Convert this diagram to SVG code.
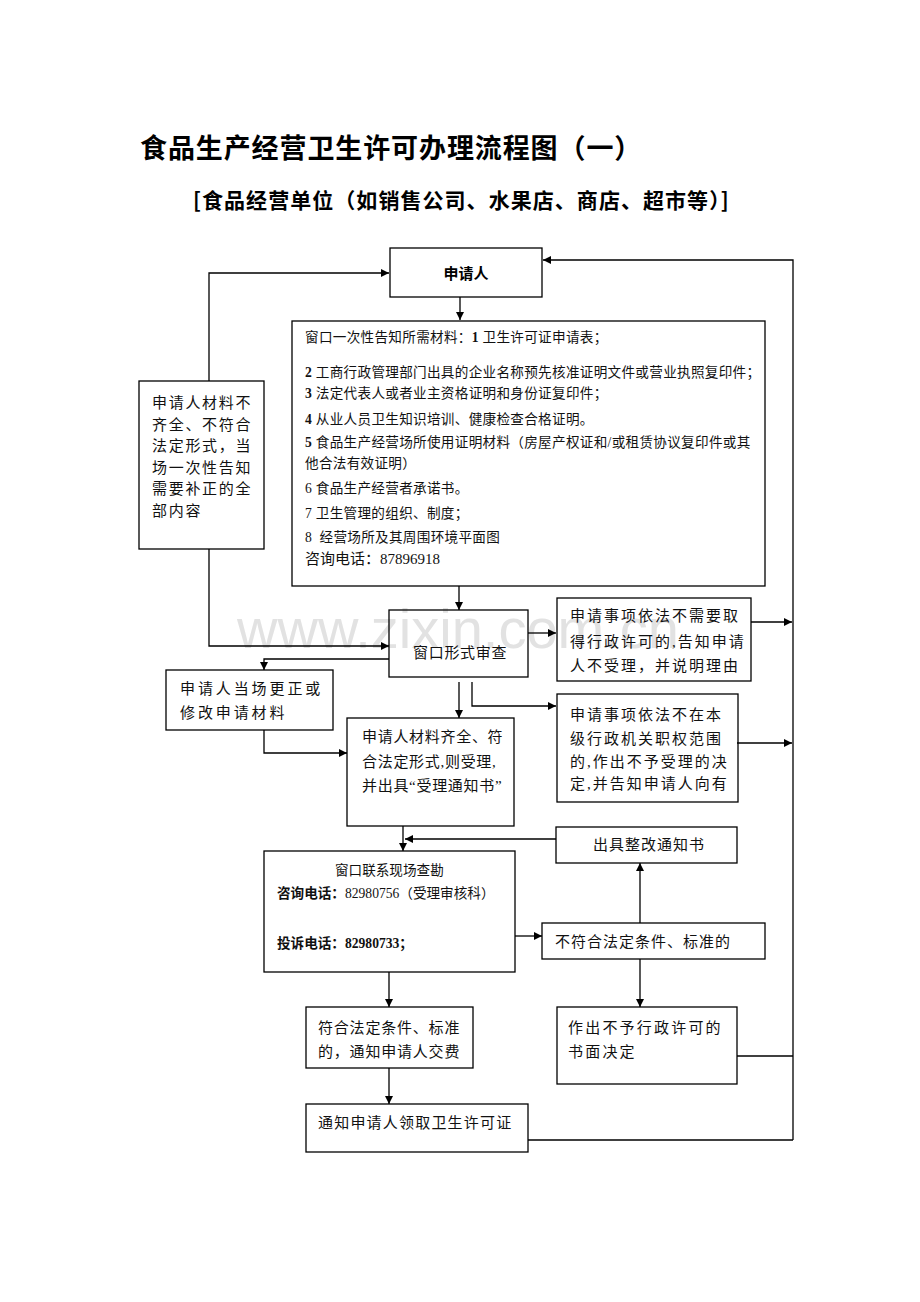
<svg xmlns="http://www.w3.org/2000/svg" width="920" height="1302" viewBox="0 0 920 1302">
<style>
.bx{fill:none;stroke:#000;stroke-width:1.3}
.ln{fill:none;stroke:#000;stroke-width:1.3}
.ar{marker-end:url(#ah)}
.t{font-family:"Liberation Serif","Noto Sans CJK SC",serif;font-size:15px;fill:#111}
.s{font-family:"Liberation Serif","Noto Sans CJK SC",serif;font-size:13.6px;fill:#111}
.m{letter-spacing:0.3px}
.h{font-family:"Noto Sans CJK SC","Liberation Sans",sans-serif;font-weight:bold;fill:#000}
.b{font-weight:bold}
.wm{font-family:"Liberation Sans",Arial,sans-serif;font-size:56px;fill:#e2e2e2}
</style>
<defs>
<marker id="ah" viewBox="0 0 10 10" refX="10" refY="5" markerWidth="9" markerHeight="8" markerUnits="userSpaceOnUse" orient="auto">
<path d="M0,0 L10,5 L0,10 z" fill="#000"/>
</marker>
</defs>
<rect width="920" height="1302" fill="#fff"/>
<text class="wm" x="237" y="648">www.zixin.com.cn</text>

<g id="title">
<text class="h" x="140" y="158" font-size="27" letter-spacing="0.9">食品生产经营卫生许可办理流程图（一）</text>
<text class="h" x="193" y="208" font-size="21" letter-spacing="1.05">[食品经营单位（如销售公司、水果店、商店、超市等）]</text>
</g>

<g id="connectors">
<polyline class="ln ar" points="209,381 209,273 389,273"/>
<polyline class="ln ar" points="209,549 209,646 389,646"/>
<line class="ln ar" x1="460" y1="297" x2="460" y2="320"/>
<line class="ln ar" x1="459" y1="586" x2="459" y2="610"/>
<line class="ln ar" x1="528" y1="633" x2="556" y2="633"/>
<line class="ln ar" x1="751" y1="622" x2="792" y2="622"/>
<line class="ln ar" x1="737" y1="743" x2="792" y2="743"/>
<polyline class="ln ar" points="793,1140 793,260 543,260"/>
<polyline class="ln ar" points="389,659 264,659 264,670"/>
<polyline class="ln ar" points="264,730 264,753 347,753"/>
<line class="ln ar" x1="459" y1="682" x2="459" y2="718"/>
<polyline class="ln ar" points="472,682 472,706 556,706"/>
<line class="ln ar" x1="403" y1="826" x2="403" y2="851"/>
<line class="ln ar" x1="556" y1="839" x2="405" y2="839"/>
<line class="ln ar" x1="515" y1="936" x2="542" y2="936"/>
<line class="ln ar" x1="640" y1="923" x2="640" y2="863"/>
<line class="ln ar" x1="640" y1="959" x2="640" y2="1007"/>
<line class="ln" x1="737" y1="1056" x2="793" y2="1056"/>
<line class="ln ar" x1="389" y1="972" x2="389" y2="1007"/>
<line class="ln ar" x1="389" y1="1068" x2="389" y2="1104"/>
<line class="ln" x1="528" y1="1140" x2="793" y2="1140"/>
</g>

<g id="n-applicant">
<rect class="bx" x="390" y="248" width="152" height="49"/>
<text class="h" x="466" y="279" font-size="15" text-anchor="middle">申请人</text>
</g>

<g id="n-materials">
<rect class="bx" x="292" y="321" width="473" height="265"/>
<text class="s m" x="305" y="342">窗口一次性告知所需材料：<tspan class="b">1</tspan> 卫生许可证申请表；</text>
<text class="s m" x="305" y="377"><tspan class="b">2</tspan> 工商行政管理部门出具的企业名称预先核准证明文件或营业执照复印件；</text>
<text class="s m" x="305" y="398"><tspan class="b">3</tspan> 法定代表人或者业主资格证明和身份证复印件；</text>
<text class="s m" x="305" y="424"><tspan class="b">4</tspan> 从业人员卫生知识培训、健康检查合格证明。</text>
<text class="s m" x="305" y="447"><tspan class="b">5</tspan> 食品生产经营场所使用证明材料（房屋产权证和/或租赁协议复印件或其</text>
<text class="s m" x="305" y="468">他合法有效证明）</text>
<text class="s m" x="305" y="493">6 食品生产经营者承诺书。</text>
<text class="s m" x="305" y="518">7 卫生管理的组织、制度；</text>
<text class="s m" x="305" y="542">8&#160; 经营场所及其周围环境平面图</text>
<text class="t" x="305" y="564" font-size="16">咨询电话：87896918</text>
</g>

<g id="n-incomplete">
<rect class="bx" x="139" y="381" width="125" height="168"/>
<g class="t" letter-spacing="1.7">
<text x="152" y="408">申请人材料不</text>
<text x="152" y="430">齐全、不符合</text>
<text x="152" y="451">法定形式，当</text>
<text x="152" y="473">场一次性告知</text>
<text x="152" y="494">需要补正的全</text>
<text x="152" y="516">部内容</text>
</g>
</g>

<g id="n-review">
<rect class="bx" x="389" y="610" width="139" height="67"/>
<text class="t" x="413" y="658" letter-spacing="0.7">窗口形式审查</text>
</g>

<g id="n-no-permit">
<rect class="bx" x="557" y="598" width="194" height="83"/>
<g class="t" letter-spacing="2">
<text x="570" y="621">申请事项依法不需要取</text>
<text x="570" y="647">得行政许可的,告知申请</text>
<text x="570" y="671">人不受理，并说明理由</text>
</g>
</g>

<g id="n-correct">
<rect class="bx" x="166" y="670" width="167" height="60"/>
<g class="t" letter-spacing="2.9">
<text x="180" y="694">申请人当场更正或</text>
<text x="180" y="718">修改申请材料</text>
</g>
</g>

<g id="n-accept">
<rect class="bx" x="347" y="718" width="167" height="108"/>
<g class="t" letter-spacing="0.7">
<text x="362" y="742">申请人材料齐全、符</text>
<text x="362" y="767">合法定形式,则受理,</text>
<text x="362" y="791">并出具“受理通知书”</text>
</g>
</g>

<g id="n-out-of-scope">
<rect class="bx" x="557" y="694" width="181" height="108"/>
<g class="t" letter-spacing="2">
<text x="570" y="720">申请事项依法不在本</text>
<text x="570" y="744">级行政机关职权范围</text>
<text x="570" y="767">的,作出不予受理的决</text>
<text x="570" y="789">定,并告知申请人向有</text>
</g>
</g>

<g id="n-rectify">
<rect class="bx" x="556" y="827" width="181" height="36"/>
<text class="t" x="593" y="850" letter-spacing="1">出具整改通知书</text>
</g>

<g id="n-inspect">
<rect class="bx" x="264" y="851" width="251" height="121"/>
<text class="s" x="335" y="875" font-size="13.5">窗口联系现场查勘</text>
<text class="s" x="277" y="898" font-size="13.5"><tspan class="b">咨询电话：</tspan>82980756（受理审核科）</text>
<text class="s b" x="277" y="948" font-size="13.5">投诉电话：82980733；</text>
</g>

<g id="n-fail">
<rect class="bx" x="542" y="923" width="223" height="36"/>
<text class="t" x="555" y="947" letter-spacing="1">不符合法定条件、标准的</text>
</g>

<g id="n-pass">
<rect class="bx" x="306" y="1007" width="167" height="61"/>
<g class="t" letter-spacing="0.8">
<text x="318" y="1033">符合法定条件、标准</text>
<text x="318" y="1057">的，通知申请人交费</text>
</g>
</g>

<g id="n-deny">
<rect class="bx" x="557" y="1007" width="180" height="77"/>
<g class="t" letter-spacing="2.2">
<text x="568" y="1033">作出不予行政许可的</text>
<text x="568" y="1057">书面决定</text>
</g>
</g>

<g id="n-collect">
<rect class="bx" x="306" y="1104" width="222" height="48"/>
<text class="t" x="318" y="1128" letter-spacing="1.2">通知申请人领取卫生许可证</text>
</g>
</svg>
